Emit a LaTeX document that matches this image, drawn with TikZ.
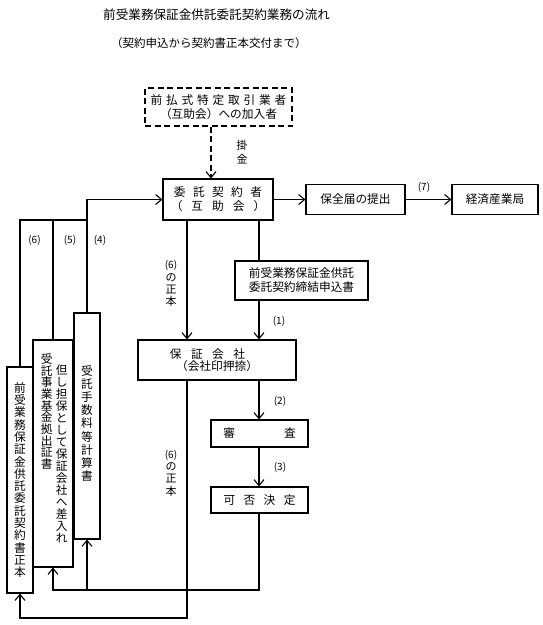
\documentclass[tikz,border=0pt]{standalone}
\usepackage{fontspec}
\setmainfont{Noto Sans CJK JP}
\usetikzlibrary{arrows.meta}
\begin{document}
\begin{tikzpicture}[x=1pt,y=-1pt,
  box/.style={draw, line width=1.1pt, inner sep=0pt, align=center, font=\fontsize{11.7}{14}\selectfont},
  vbox/.style={draw, line width=1.1pt, inner sep=0pt},
  vtext/.style={inner sep=0pt, align=center},
  conn/.style={line width=1.1pt, -{Straight Barb[length=6pt,width=10pt,line width=1.1pt]}},
  plain/.style={line width=1.1pt},
  lab/.style={inner sep=0pt, font=\fontsize{10}{12}\selectfont},
]
\fill[white] (0,0) rectangle (543,625);
\useasboundingbox (0,0) rectangle (543,625);

% titles
\node[inner sep=0pt, anchor=west, font=\fontsize{12.6}{14}\selectfont] (t1) at (103,15) {前受業務保証金供託委託契約業務の流れ};
\node[inner sep=0pt, anchor=west, font=\fontsize{11.5}{14}\selectfont] (t2) at (111,43) {（契約申込から契約書正本交付まで）};

% boxes
\node[box, dash pattern=on 6pt off 3.5pt, minimum width=147pt, minimum height=38pt] (dash) at (218.5,107)
  {前\hspace{3.8pt}払\hspace{3.8pt}式\hspace{3.8pt}特\hspace{3.8pt}定\hspace{3.8pt}取\hspace{3.8pt}引\hspace{3.8pt}業\hspace{3.8pt}者\\（互助会）への加入者};
\node[box, minimum width=110pt, minimum height=41pt] (main) at (218,199.5)
  {委\hspace{7.4pt}託\hspace{7.4pt}契\hspace{7.4pt}約\hspace{7.4pt}者\\（\hspace{9pt}互\hspace{9pt}助\hspace{9pt}会\hspace{9pt}）};
\node[box, minimum width=99pt, minimum height=30pt] (hozen) at (355.5,199.5) {保全届の提出};
\node[box, minimum width=86pt, minimum height=30pt] (keizai) at (495,199.5) {経済産業局};
\node[box, minimum width=133pt, minimum height=39pt] (mous) at (301.5,280.5) {前受業務保証金供託\\委託契約締結申込書};
\node[box, font=\fontsize{11.7}{12.5}\selectfont, minimum width=158pt, minimum height=40pt] (hosho) at (217,360)
  {保\hspace{9.5pt}証\hspace{9.5pt}会\hspace{9.5pt}社\hspace*{19pt}\\（会社印押捺）};
\node[box, minimum width=97pt, minimum height=27pt] (shinsa) at (259.5,433.5) {審\hspace{49pt}査};
\node[box, minimum width=97pt, minimum height=26pt] (kahi) at (259.5,500) {可\hspace{8.4pt}否\hspace{8.4pt}決\hspace{8.4pt}定};

% vertical boxes
\node[vbox, minimum width=26pt, minimum height=226pt] (jutaku) at (87,426) {};
\node[vtext, font=\fontsize{11.7}{13.2}\selectfont] (jutakut) at (87,423.5) {受\\託\\手\\数\\料\\等\\計\\算\\書};
\node[vbox, minimum width=40pt, minimum height=227pt] (tadashi) at (53,453.5) {};
\node[vtext, font=\fontsize{11.7}{12}\selectfont] (tadashiR) at (61.7,454) {但\\し\\担\\保\\と\\し\\て\\保\\証\\会\\社\\へ\\差\\入\\れ};
\node[vtext, font=\fontsize{11.7}{11.7}\selectfont] (tadashiL) at (46.7,411.5) {受\\託\\事\\業\\基\\金\\拠\\出\\証\\書};
\node[vbox, minimum width=26pt, minimum height=226pt] (zenju) at (20,480) {};
\node[vtext, font=\fontsize{11.7}{12.3}\selectfont] (zenjut) at (20,480) {前\\受\\業\\務\\保\\証\\金\\供\\託\\委\\託\\契\\約\\書\\正\\本};

% connectors
\coordinate (k1) at (211,0);
\draw[conn, dash pattern=on 6pt off 3.5pt] (k1 |- dash.south) -- (k1 |- main.north);
\draw[conn] (main.east) -- (hozen.west);
\draw[conn] (hozen.east) -- (keizai.west);
\draw[conn] (jutaku.north) |- (main.west);
\coordinate (j220) at (87,220);
\draw[plain] (zenju.north) |- (j220);
\draw[plain] (tadashi.north) -- (tadashi.north |- j220);
\coordinate (m1) at (187,0);
\coordinate (m2) at (259,0);
\draw[conn] (m1 |- main.south) -- (m1 |- hosho.north);
\draw[plain] (m2 |- main.south) -- (m2 |- mous.north);
\draw[conn] (m2 |- mous.south) -- (m2 |- hosho.north);
\draw[conn] (m2 |- hosho.south) -- (m2 |- shinsa.north);
\draw[conn] (m2 |- shinsa.south) -- (m2 |- kahi.north);
\coordinate (b1) at (0,590);
\coordinate (b2) at (0,618);
\draw[conn] (m2 |- kahi.south) |- (tadashi.south |- b1) -- (tadashi.south);
\draw[conn] (jutaku.south |- b1) -- (jutaku.south);
\draw[conn] (m1 |- hosho.south) |- (zenju.south |- b2) -- (zenju.south);

% labels
\node[lab] (l7) at (424,187) {(7)};
\node[lab] (l6) at (34.5,240) {(6)};
\node[lab] (l5) at (70,240) {(5)};
\node[lab] (l4) at (100,240) {(4)};
\node[lab] (l1) at (279,321) {(1)};
\node[lab] (l2) at (280,401) {(2)};
\node[lab] (l3) at (280,467) {(3)};
\node[vtext, font=\fontsize{11}{12.3}\selectfont] (sh1) at (171,283.5) {{\fontsize{10}{12}\selectfont(6)}\\の\\正\\本};
\node[vtext, font=\fontsize{11}{12.3}\selectfont] (sh2) at (171,473) {{\fontsize{10}{12}\selectfont(6)}\\の\\正\\本};
\node[vtext, font=\fontsize{11}{14}\selectfont] (kake) at (242,152) {掛\\金};
\end{tikzpicture}
\end{document}
